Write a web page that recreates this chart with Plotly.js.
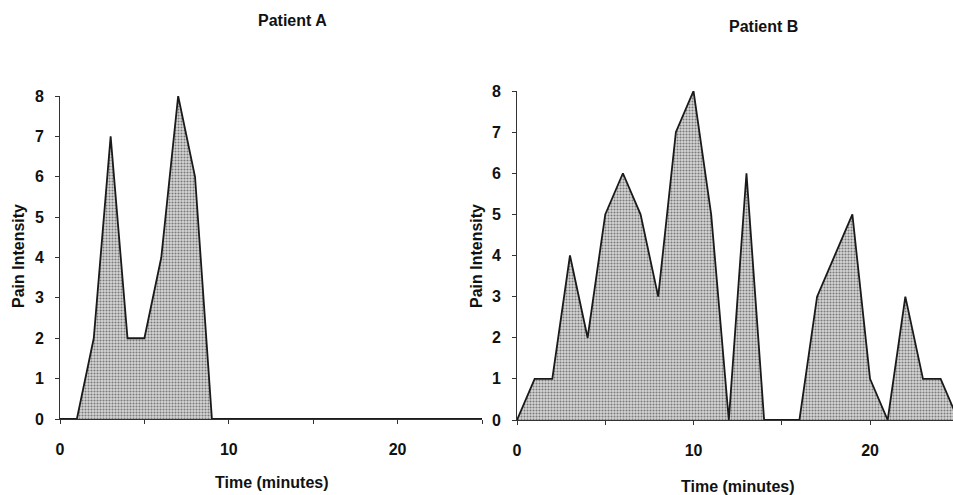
<!DOCTYPE html>
<html>
<head>
<meta charset="utf-8">
<script src="https://cdn.plot.ly/plotly-3.0.1.min.js"></script>
<style>html,body{margin:0;padding:0;background:#fff;}#chart{width:953px;height:495px;}</style>
</head>
<body>
<div id="chart"></div>
<script>
// Patient A
var timeA = [0, 1, 2, 3, 4, 5, 6, 7, 8, 9, 25];
var painA = [0, 0, 2, 7, 2, 2, 4, 8, 6, 0, 0];
// Patient B
var timeB = [0, 1, 2, 3, 4, 5, 6, 7, 8, 9, 10, 11, 12, 13, 14, 15, 16, 17, 18, 19, 20, 21, 22, 23, 24, 25];
var painB = [0, 1, 1, 4, 2, 5, 6, 5, 3, 7, 8, 5, 0, 6, 0, 0, 0, 3, 4, 5, 1, 0, 3, 1, 1, 0];
var xTickVals = [0, 10, 20];
var yTickVals = [0, 1, 2, 3, 4, 5, 6, 7, 8];
var titleA = "Patient A", titleB = "Patient B";
var xTitle = "Time (minutes)", yTitle = "Pain Intensity";

var W = 953, H = 495;
var pat = {shape: '.', fgcolor: '#7a7a7a', bgcolor: '#d6d6d6', size: 3, solidity: 0.4};
var lineStyle = {color: '#1a1a1a', width: 1.8, shape: 'linear'};

var traces = [
  {x: timeA, y: painA, type: 'scatter', mode: 'lines', fill: 'tozeroy', fillpattern: pat,
   fillcolor: '#d6d6d6', line: lineStyle, xaxis: 'x', yaxis: 'y', hoverinfo: 'skip'},
  {x: timeB, y: painB, type: 'scatter', mode: 'lines', fill: 'tozeroy', fillpattern: pat,
   fillcolor: '#d6d6d6', line: lineStyle, xaxis: 'x2', yaxis: 'y2', hoverinfo: 'skip'}
];

var tickFont = {family: 'Arial, Liberation Sans, sans-serif', size: 16, color: '#111', weight: 'bold'};
function xAx(dom, range, anchor) {
  return {domain: dom, range: range, anchor: anchor, showline: true, linecolor: '#333', linewidth: 1,
    ticks: 'outside', ticklen: 4, tickcolor: '#333', tickvals: xTickVals, ticktext: xTickVals.map(String),
    minor: {dtick: 5, tick0: 0, ticks: 'outside', ticklen: 4, tickcolor: '#333', showgrid: false},
    showgrid: false, zeroline: false, tickfont: tickFont, ticklabelstandoff: 12, automargin: false, fixedrange: true};
}
function yAx(dom, anchor) {
  return {domain: dom, range: [0, 8], anchor: anchor, showline: true, linecolor: '#333', linewidth: 1,
    ticks: 'outside', ticklen: 4, tickcolor: '#333', tickvals: yTickVals,
    showgrid: false, zeroline: false, tickfont: tickFont, ticklabelstandoff: 8, automargin: false, fixedrange: true};
}

var annFont = {family: 'Arial, Liberation Sans, sans-serif', size: 16, color: '#111', weight: 'bold'};
function ann(text, px, py, rot) {
  return {text: text, x: px / W, y: 1 - py / H, xref: 'paper', yref: 'paper', showarrow: false,
    xanchor: 'center', yanchor: 'middle', textangle: rot || 0, font: annFont};
}

var layout = {
  width: W, height: H,
  margin: {l: 0, r: 0, t: 0, b: 0},
  paper_bgcolor: '#fff', plot_bgcolor: 'rgba(0,0,0,0)',
  showlegend: false,
  xaxis: xAx([60 / W, 482 / W], [0, 25], 'y'),
  yaxis: yAx([(H - 419) / H, (H - 96) / H], 'x'),
  xaxis2: xAx([517 / W, 1], [0, 24.7], 'y2'),
  yaxis2: yAx([(H - 420) / H, (H - 91) / H], 'x2'),
  annotations: [
    ann(titleA, 292, 20),
    ann(titleB, 763, 26),
    ann(xTitle, 272, 482),
    ann(xTitle, 738, 486),
    ann(yTitle, 18, 256, -90),
    ann(yTitle, 476, 256, -90)
  ]
};

Plotly.newPlot('chart', traces, layout, {displayModeBar: false, staticPlot: true});
</script>
</body>
</html>
